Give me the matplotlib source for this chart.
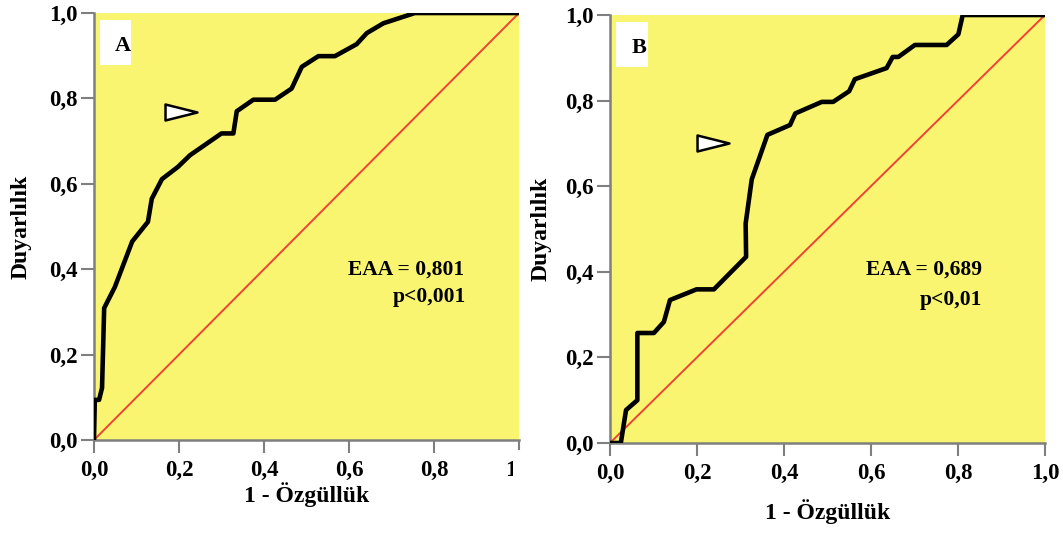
import matplotlib
matplotlib.use('Agg')
import matplotlib.pyplot as plt
from matplotlib.path import Path
from matplotlib.patches import Rectangle

plt.rcParams['font.family'] = ['Liberation Serif', 'DejaVu Serif']
plt.rcParams['font.weight'] = 'bold'
plt.rcParams['axes.labelweight'] = 'bold'

# ROC curve A (1 - specificity, sensitivity)
a_fpr = [0.0, 0.002, 0.012, 0.019, 0.024, 0.049, 0.09, 0.127, 0.136, 0.16, 0.198,
         0.226, 0.300, 0.328, 0.336, 0.375, 0.426, 0.465, 0.489, 0.528, 0.567,
         0.618, 0.642, 0.681, 0.755, 1.0]
a_tpr = [0.0, 0.094, 0.094, 0.122, 0.309, 0.358, 0.465, 0.511, 0.565, 0.611, 0.640,
         0.667, 0.718, 0.718, 0.770, 0.797, 0.797, 0.823, 0.874, 0.899, 0.899,
         0.927, 0.953, 0.976, 1.0, 1.0]

# ROC curve B
b_fpr = [0.0, 0.025, 0.037, 0.063, 0.063, 0.101, 0.124, 0.138, 0.199, 0.239, 0.313,
         0.312, 0.326, 0.362, 0.414, 0.426, 0.487, 0.513, 0.550, 0.563, 0.636,
         0.650, 0.663, 0.701, 0.774, 0.801, 0.811, 1.0]
b_tpr = [0.0, 0.0, 0.077, 0.100, 0.257, 0.257, 0.283, 0.334, 0.359, 0.359, 0.435,
         0.513, 0.616, 0.720, 0.743, 0.770, 0.797, 0.797, 0.822, 0.850, 0.876,
         0.902, 0.902, 0.930, 0.930, 0.955, 1.0, 1.0]

panels = ['A', 'B']
auc_text = ['EAA = 0,801', 'EAA = 0,689']
p_text = ['p<0,001', 'p<0,01']
arrow_pos = [(0.205, 0.768), (0.237, 0.70)]
ticks = [0.0, 0.2, 0.4, 0.6, 0.8, 1.0]
tick_labels = ['0,0', '0,2', '0,4', '0,6', '0,8', '1,0']

yellow = '#FAF571'
grey = '#7F7F7F'

tri = Path([(-1, -0.5), (1, 0), (-1, 0.5), (-1, -0.5)],
           [Path.MOVETO, Path.LINETO, Path.LINETO, Path.CLOSEPOLY])

fig = plt.figure(figsize=(10.63, 5.36), dpi=100)
ax_a = fig.add_axes([0.0884, 0.1791, 0.3998, 0.7966])
ax_b = fig.add_axes([0.5738, 0.1735, 0.4092, 0.7985])

curves = [(a_fpr, a_tpr), (b_fpr, b_tpr)]
text_pos = [((0.598, 0.398), (0.704, 0.335)), ((0.589, 0.404), (0.713, 0.334))]
xlabel_pad = [0.5, 11]
ylabel_pad = [13, 10]

for i, ax in enumerate([ax_a, ax_b]):
    ax.set_facecolor(yellow)
    ax.set_xlim(0, 1)
    ax.set_ylim(0, 1)
    ax.plot([0, 1], [0, 1], color='#EE4436', lw=1.4, zorder=2)
    ax.plot(curves[i][0], curves[i][1], color='black', lw=3.3, zorder=3)

    ax.set_xticks(ticks)
    ax.set_xticklabels(tick_labels)
    ax.set_yticks(ticks)
    ax.set_yticklabels(tick_labels)
    ax.tick_params(direction='out', length=9.5, width=1.5, color=grey,
                   labelsize=16.5, pad=2)
    ax.tick_params(axis='x', pad=5)
    for s in ['top', 'right']:
        ax.spines[s].set_visible(False)
    for s in ['left', 'bottom']:
        ax.spines[s].set_color(grey)
        ax.spines[s].set_linewidth(1.8)

    ax.set_xlabel('1 - Özgüllük', fontsize=17, labelpad=xlabel_pad[i])
    ax.set_ylabel('Duyarlılık', fontsize=17, labelpad=ylabel_pad[i])

    ax.add_patch(Rectangle((0.014, 0.878), 0.073, 0.106, transform=ax.transAxes,
                           facecolor='white', edgecolor='none', zorder=4))
    ax.text(0.068, 0.923, panels[i], transform=ax.transAxes, fontsize=16,
            ha='center', va='center', zorder=5)

    ax.plot([arrow_pos[i][0]], [arrow_pos[i][1]], marker=tri, markersize=23,
            markerfacecolor='white', markeredgecolor='black', markeredgewidth=1.8,
            zorder=5)

    ax.text(text_pos[i][0][0], text_pos[i][0][1], auc_text[i], fontsize=15.5,
            ha='left', va='center')
    ax.text(text_pos[i][1][0], text_pos[i][1][1], p_text[i], fontsize=15.5,
            ha='left', va='center')

# the source image was cropped right after the "1" of panel A's last tick
fig.add_artist(Rectangle((513 / 1063, 0.07), 0.025, 0.09, transform=fig.transFigure,
                         facecolor='white', edgecolor='none', zorder=10))

fig.savefig('out.png', dpi=100)
